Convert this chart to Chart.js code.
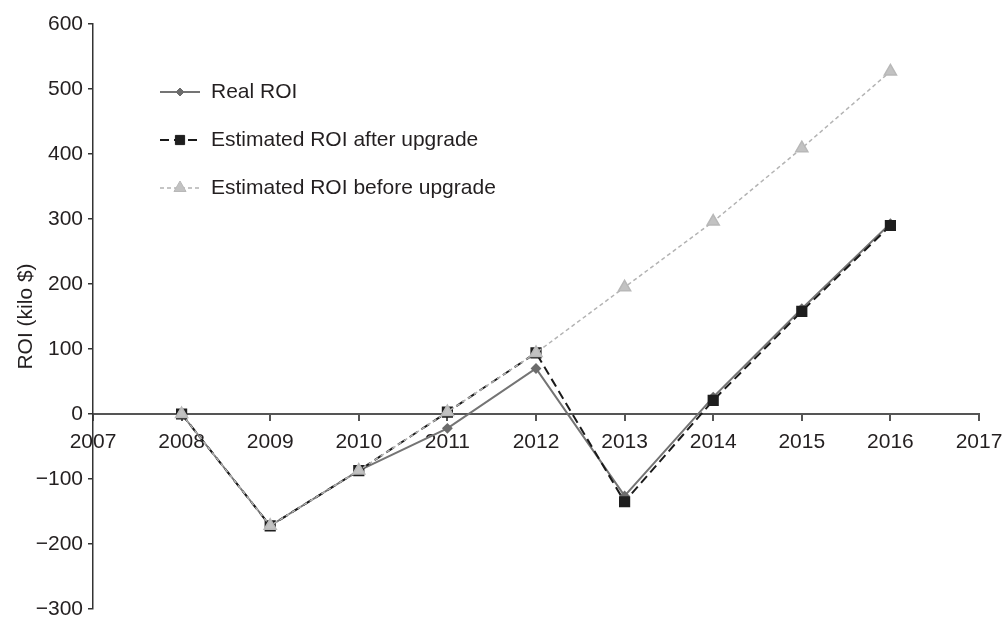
<!DOCTYPE html>
<html>
<head>
<meta charset="utf-8">
<script src="https://cdn.jsdelivr.net/npm/chart.js@4"></script>
<style>
  body { margin: 0; background: #fff; }
  #grafica { display: block; }
</style>
</head>
<body>
<canvas id="grafica" width="1006" height="619"></canvas>
<script>
const anios = [2008, 2009, 2010, 2011, 2012, 2013, 2014, 2015, 2016];
const roiReal = [0, -172, -87, -22, 70, -126, 26, 162, 293];
const roiDespues = [0, -172, -87, 3, 94, -135, 21, 158, 290];
const roiAntes = [0, -172, -87, 3, 94, 195, 296, 409, 527];
const ticksY = [-300, -200, -100, 0, 100, 200, 300, 400, 500, 600];
const ticksX = [2007, 2008, 2009, 2010, 2011, 2012, 2013, 2014, 2015, 2016, 2017];

const fuente = "'Liberation Sans', Arial, sans-serif";

function puntos(valores) {
  return anios.map((a, i) => ({ x: a, y: valores[i] }));
}

// leyenda a mano: linea + marcador como en el original
function marcador(ctx, estilo, x, y, r) {
  ctx.beginPath();
  if (estilo === "rectRot") {
    ctx.moveTo(x, y - r); ctx.lineTo(x + r, y); ctx.lineTo(x, y + r); ctx.lineTo(x - r, y);
  } else if (estilo === "rect") {
    const s = r * Math.SQRT1_2;
    ctx.rect(x - s, y - s, 2 * s, 2 * s);
  } else if (estilo === "triangle") {
    for (let k = 0; k < 3; k++) {
      const a = k * 2 * Math.PI / 3;
      const px = x + Math.sin(a) * r, py = y - Math.cos(a) * r;
      k ? ctx.lineTo(px, py) : ctx.moveTo(px, py);
    }
  }
  ctx.closePath();
  ctx.fill();
  ctx.stroke();
}

const leyenda = {
  id: "leyenda",
  afterDraw(chart) {
    const ctx = chart.ctx;
    const x0 = 160, y0 = 92, paso = 48;
    chart.data.datasets.forEach((d, i) => {
      const y = y0 + i * paso;
      ctx.save();
      ctx.strokeStyle = d.borderColor;
      ctx.lineWidth = d.borderWidth;
      ctx.setLineDash(d.borderDash || []);
      ctx.beginPath();
      ctx.moveTo(x0, y);
      ctx.lineTo(x0 + 40, y);
      ctx.stroke();
      ctx.setLineDash([]);
      ctx.fillStyle = d.pointBackgroundColor;
      ctx.strokeStyle = d.pointBorderColor;
      ctx.lineWidth = 1;
      marcador(ctx, d.pointStyle, x0 + 20, y, d.pointRadius);
      ctx.fillStyle = "#231f20";
      ctx.font = "21px " + fuente;
      ctx.textBaseline = "middle";
      ctx.fillText(d.label, x0 + 51, y);
      ctx.restore();
    });
  }
};

new Chart(document.getElementById("grafica"), {
  type: "line",
  data: {
    datasets: [
      {
        label: "Real ROI",
        data: puntos(roiReal),
        borderColor: "#747474",
        borderWidth: 2,
        pointStyle: "rectRot",
        pointRadius: 4,
        pointBackgroundColor: "#6c6c6c",
        pointBorderColor: "#6c6c6c",
        order: 2
      },
      {
        label: "Estimated ROI after upgrade",
        data: puntos(roiDespues),
        borderColor: "#1a1a1a",
        borderWidth: 2,
        borderDash: [9, 5],
        pointStyle: "rect",
        pointRadius: 6.5,
        pointBackgroundColor: "#1e1e1e",
        pointBorderColor: "#1e1e1e",
        order: 1
      },
      {
        label: "Estimated ROI before upgrade",
        data: puntos(roiAntes),
        borderColor: "#b3b3b3",
        borderWidth: 1.5,
        borderDash: [4, 3],
        pointStyle: "triangle",
        pointRadius: 7,
        pointBackgroundColor: "#c2c2c2",
        pointBorderColor: "#b8b8b8",
        order: 0
      }
    ]
  },
  options: {
    responsive: false,
    animation: false,
    layout: { padding: { left: 0, top: 24, right: 27, bottom: 10 } },
    plugins: { legend: { display: false }, tooltip: { enabled: false } },
    elements: { line: { tension: 0 } },
    scales: {
      x: {
        type: "linear",
        min: 2007,
        max: 2017,
        position: { y: 0 },
        afterFit: s => {
          s.height = 0;
          s.paddingLeft = 0; s.paddingRight = 0; s.paddingTop = 0; s.paddingBottom = 0;
        },
        afterBuildTicks: s => { s.ticks = ticksX.map(v => ({ value: v })); },
        border: { color: "#555", width: 2 },
        grid: { drawOnChartArea: false, drawTicks: true, tickLength: 6, color: "#555", lineWidth: 2 },
        ticks: {
          autoSkip: false,
          maxRotation: 0,
          padding: 10,
          color: "#231f20",
          font: { family: fuente, size: 21 },
          callback: v => String(v)
        }
      },
      y: {
        min: -300,
        max: 600,
        afterFit: s => {
          s.width = 93;
          s.paddingLeft = 0; s.paddingRight = 0; s.paddingTop = 0; s.paddingBottom = 0;
        },
        afterBuildTicks: s => { s.ticks = ticksY.map(v => ({ value: v })); },
        border: { color: "#333", width: 1.5 },
        grid: { drawOnChartArea: false, drawTicks: true, tickLength: 5, color: "#333", lineWidth: 1.5 },
        ticks: {
          padding: 5,
          color: "#231f20",
          font: { family: fuente, size: 21 },
          callback: v => v < 0 ? "\u2212" + Math.abs(v) : String(v)
        },
        title: {
          display: true,
          text: "ROI (kilo $)",
          color: "#231f20",
          font: { family: fuente, size: 21 },
          padding: { top: 14, bottom: 0 }
        }
      }
    }
  },
  plugins: [leyenda]
});
</script>
</body>
</html>
